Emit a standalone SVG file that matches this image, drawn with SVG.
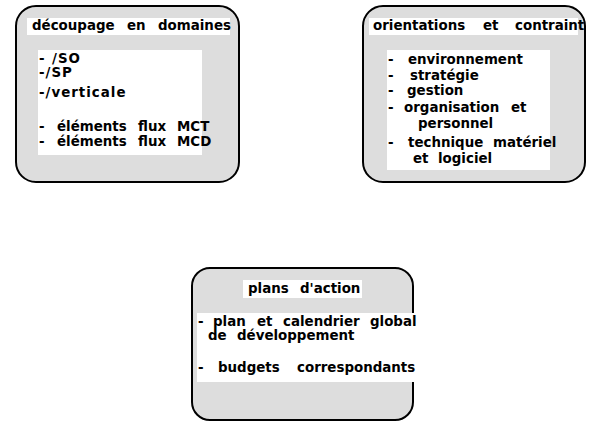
<svg xmlns="http://www.w3.org/2000/svg" width="592" height="422" viewBox="0 0 592 422">
<style>
.box{fill:#dddddd;stroke:#000;stroke-width:2}
.band{fill:#fff}
text{font-family:"DejaVu Sans","Liberation Sans",sans-serif;font-size:13.4px;font-weight:bold;fill:#000}
.sp{letter-spacing:1px}
</style>
<rect width="592" height="422" fill="#fff"/>
<g id="decoupage">
<rect class="box" x="16" y="6" width="223" height="176" rx="20"/>
<rect class="band" x="27" y="18" width="203" height="17"/>
<text y="30"><tspan x="32">découpage</tspan><tspan x="127">en</tspan><tspan x="158">domaines</tspan></text>
<rect class="band" x="38" y="50" width="164" height="105"/>
<text class="sp" y="63"><tspan x="39">-</tspan><tspan x="52">/SO</tspan></text>
<text class="sp" x="39" y="77">-/SP</text>
<text class="sp" x="39" y="97">-/verticale</text>
<text y="131"><tspan x="39">-</tspan><tspan x="57">éléments</tspan><tspan x="138">flux</tspan><tspan x="177">MCT</tspan></text>
<text y="146"><tspan x="39">-</tspan><tspan x="57">éléments</tspan><tspan x="138">flux</tspan><tspan x="177">MCD</tspan></text>
</g>
<g id="orientations">
<rect class="box" x="363" y="6" width="222" height="176" rx="20"/>
<rect class="band" x="369" y="18" width="209" height="17"/>
<text y="30"><tspan x="373">orientations</tspan><tspan x="483">et</tspan><tspan x="515">contraint</tspan></text>
<rect class="band" x="387" y="50" width="163" height="120"/>
<text y="64"><tspan x="388">-</tspan><tspan x="408">environnement</tspan></text>
<text y="80"><tspan x="388">-</tspan><tspan x="410">stratégie</tspan></text>
<text y="95"><tspan x="388">-</tspan><tspan x="407">gestion</tspan></text>
<text y="112"><tspan x="388">-</tspan><tspan x="404">organisation</tspan><tspan x="511">et</tspan></text>
<text x="418" y="128">personnel</text>
<text y="147"><tspan x="388">-</tspan><tspan x="408">technique</tspan><tspan x="493">matériel</tspan></text>
<text y="163"><tspan x="413">et</tspan><tspan x="438">logiciel</tspan></text>
</g>
<g id="plans">
<rect class="box" x="192" y="268" width="221" height="152" rx="18"/>
<rect class="band" x="243" y="280" width="119" height="18"/>
<text y="293"><tspan x="248">plans</tspan><tspan x="300">d'action</tspan></text>
<rect class="band" x="197" y="313" width="218" height="69"/>
<text y="326"><tspan x="198">-</tspan><tspan x="213">plan</tspan><tspan x="257">et</tspan><tspan x="283">calendrier</tspan><tspan x="370">global</tspan></text>
<text y="340"><tspan x="208">de</tspan><tspan x="237">développement</tspan></text>
<text y="372"><tspan x="198">-</tspan><tspan x="218">budgets</tspan><tspan x="297">correspondants</tspan></text>
</g>
<g id="connectors"/>
</svg>
